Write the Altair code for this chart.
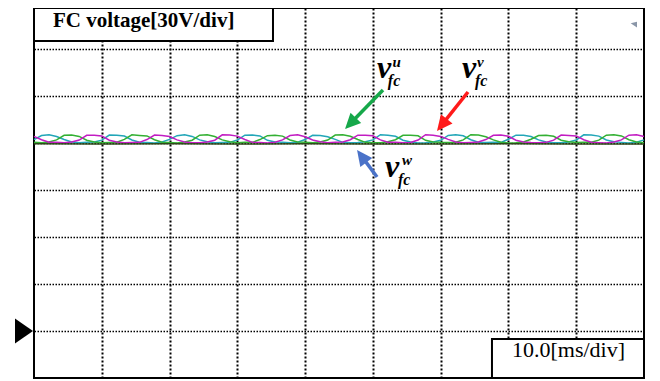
import altair as alt
import pandas as pd

# ---------------- data ----------------
# sample clock: 9 samples per 10 ms division, 0 .. 90 ms
t_ms = [round(i * 10 / 9, 3) for i in range(82)]

# flying-capacitor voltages [V] (30 V/div, ground = marker)
v_fc_w = [  # cyan trace
    122.1, 124.8, 125.2, 124.1, 122.2, 120.7, 120.1, 120.4, 120.6,
    121.8, 125.1, 124.9, 124.4, 121.9, 120.5, 120.3, 120.0, 120.7,
    122.3, 124.7, 125.3, 124.2, 122.0, 120.8, 120.2, 120.3, 120.4,
    121.9, 125.0, 125.1, 124.5, 121.7, 120.6, 120.4, 120.1, 120.5,
    122.2, 124.9, 124.8, 124.0, 122.3, 120.4, 120.2, 120.3, 120.8,
    122.0, 125.3, 125.0, 124.3, 121.8, 120.7, 120.0, 120.2, 120.6,
    121.7, 124.8, 125.2, 124.6, 122.1, 120.5, 120.3, 120.4, 120.3,
    122.4, 125.0, 124.9, 124.1, 122.0, 120.6, 120.1, 120.2, 120.7,
    121.9, 125.2, 125.1, 124.4, 121.9, 120.8, 120.4, 120.0, 120.5,
    122.0,
]
v_fc_u = [  # green trace
    120.4, 120.1, 120.6, 122.0, 124.9, 125.1, 124.2, 121.8, 120.7,
    120.2, 120.3, 120.5, 122.3, 125.2, 124.8, 124.5, 122.1, 120.5,
    120.3, 120.0, 120.7, 121.8, 125.0, 125.3, 124.1, 122.0, 120.8,
    120.1, 120.4, 120.4, 122.2, 124.7, 125.0, 124.4, 121.9, 120.6,
    120.5, 120.2, 120.6, 121.9, 125.1, 125.2, 124.3, 122.2, 120.4,
    120.2, 120.1, 120.8, 122.1, 124.9, 124.9, 124.6, 121.7, 120.7,
    120.4, 120.3, 120.5, 122.0, 125.3, 125.1, 124.0, 122.0, 120.5,
    120.0, 120.2, 120.6, 122.4, 124.8, 125.0, 124.3, 121.8, 120.8,
    120.3, 120.4, 120.5, 121.8, 125.0, 125.2, 124.5, 122.1, 120.6,
    120.2,
]
v_fc_v = [  # magenta trace
    124.2, 122.1, 120.5, 120.4, 120.1, 120.6, 121.9, 124.9, 125.0,
    124.5, 121.8, 120.7, 120.2, 120.3, 120.4, 122.2, 125.1, 124.8,
    124.1, 122.0, 120.6, 120.1, 120.2, 120.7, 121.8, 125.2, 125.1,
    124.4, 122.2, 120.4, 120.3, 120.0, 120.5, 122.0, 124.8, 125.2,
    124.0, 121.9, 120.8, 120.2, 120.4, 120.6, 122.1, 125.0, 124.9,
    124.6, 122.0, 120.5, 120.4, 120.1, 120.3, 121.9, 125.3, 125.0,
    124.2, 122.3, 120.6, 120.1, 120.3, 120.6, 122.2, 124.9, 125.1,
    124.3, 121.8, 120.7, 120.3, 120.2, 120.4, 121.8, 125.1, 124.8,
    124.5, 122.1, 120.5, 120.2, 120.0, 120.7, 122.0, 125.0, 125.2,
    124.1,
]
base_t = [0, 10, 20, 30, 40, 50, 60, 70, 80, 90]
base_v = [119.5, 119.4, 119.5, 119.3, 119.5, 119.4, 119.4, 119.5, 119.3, 119.4]

series_names = ["w", "u", "v"]
series_colors = ["#22a6b8", "#33b033", "#c21cc2"]

x_grid = [10, 20, 30, 40, 50, 60, 70, 80]
y_grid = [0, 30, 60, 90, 120, 150, 180]

title_text = "FC voltage[30V/div]"
scale_text = "10.0[ms/div]"

SERIF = "Times New Roman, Liberation Serif, serif"

# ---------------- tables ----------------
rows = []
for name, vals in zip(series_names, [v_fc_w, v_fc_u, v_fc_v]):
    for t, v in zip(t_ms, vals):
        rows.append({"t": t, "v": v, "s": name})
traces = pd.DataFrame(rows)
base = pd.DataFrame({"t": base_t, "v": base_v})

X = alt.Scale(domain=[0, 90], nice=False, zero=False)
Y = alt.Scale(domain=[-30, 206.17], nice=False, zero=False)

xax = alt.Axis(values=x_grid, grid=True, gridColor="black", gridDash=[2, 2], gridWidth=2,
               labels=False, ticks=False, domain=False, title=None)
yax = alt.Axis(values=y_grid, grid=True, gridColor="black", gridDash=[1.5, 1.5], gridWidth=1.6,
               labels=False, ticks=False, domain=False, title=None)

lines = alt.Chart(traces).mark_line(strokeWidth=1.5).encode(
    x=alt.X("t:Q", scale=X, axis=xax),
    y=alt.Y("v:Q", scale=Y, axis=yax),
    color=alt.Color("s:N", scale=alt.Scale(domain=series_names, range=series_colors), legend=None),
)

baseline = alt.Chart(base).mark_line(strokeWidth=1.5, color="#2f4a1a").encode(
    x=alt.X("t:Q", scale=X), y=alt.Y("v:Q", scale=Y)
)

# boxes
boxes = pd.DataFrame({
    "x": [0, 67.57], "x2": [35.26, 90], "y": [185.1, -30], "y2": [206.17, -5.1]
})
box_layer = alt.Chart(boxes).mark_rect(fill="white", stroke="black", strokeWidth=2).encode(
    x=alt.X("x:Q", scale=X), x2="x2", y=alt.Y("y:Q", scale=Y), y2="y2"
)

title_layer = alt.Chart(pd.DataFrame({"x": [2.8], "y": [194.0], "txt": [title_text]})).mark_text(
    font=SERIF, fontSize=21, fontWeight="bold", align="left", baseline="alphabetic",
    color="black"
).encode(x=alt.X("x:Q", scale=X), y=alt.Y("y:Q", scale=Y), text="txt:N")

scale_layer = alt.Chart(pd.DataFrame({"x": [78.86], "y": [-16.6], "txt": [scale_text]})).mark_text(
    font=SERIF, fontSize=22, align="center", baseline="alphabetic", color="black"
).encode(x=alt.X("x:Q", scale=X), y=alt.Y("y:Q", scale=Y), text="txt:N")

# arrows
arrows = pd.DataFrame({
    "x": [51.49, 64.03, 50.61], "y": [153.83, 152.55, 98.30],
    "x2": [46.71, 60.20, 48.36], "y2": [132.57, 131.68, 111.45],
    "tx": [45.89, 59.46, 47.66], "ty": [128.94, 127.66, 115.53],
    "ang": [224, 218.5, 323.5],
    "c": ["#16a84a", "#ff1a1a", "#4a72c8"],
})
shafts = alt.Chart(arrows).mark_rule(strokeWidth=3.5).encode(
    x=alt.X("x:Q", scale=X), y=alt.Y("y:Q", scale=Y), x2="x2", y2="y2",
    color=alt.Color("c:N", scale=None),
)
heads = alt.Chart(arrows).mark_point(
    shape="M0,0L-1,2.1L1,2.1Z", filled=True, size=220, opacity=1
).encode(
    x=alt.X("tx:Q", scale=X), y=alt.Y("ty:Q", scale=Y),
    angle=alt.Angle("ang:Q", scale=None), color=alt.Color("c:N", scale=None),
)

# labels v^s_fc
lab_v = pd.DataFrame({"x": [50.6, 63.15, 51.8], "y": [161.5, 161.5, 98.3], "txt": ["v", "v", "v"]})
lab_sup = pd.DataFrame({"x": [52.9, 65.36, 54.3], "y": [168.5, 168.5, 106.0], "txt": ["u", "v", "w"]})
lab_sub = pd.DataFrame({"x": [52.2, 65.07, 53.7], "y": [156.4, 156.4, 93.2], "txt": ["fc", "fc", "fc"]})

def lab(df, size):
    return alt.Chart(df).mark_text(
        font=SERIF, fontSize=size, fontWeight="bold", fontStyle="italic",
        align="left", baseline="alphabetic", color="black"
    ).encode(x=alt.X("x:Q", scale=X), y=alt.Y("y:Q", scale=Y), text="txt:N")

# ground marker and trigger marker
ground = alt.Chart(pd.DataFrame({"x": [-0.15], "y": [0]})).mark_point(
    shape="M0,0L-1.44,-1L-1.44,1Z", filled=True, size=625, color="black", opacity=1
).encode(x=alt.X("x:Q", scale=X), y=alt.Y("y:Q", scale=Y))
trig = alt.Chart(pd.DataFrame({"x": [88.5], "y": [195.3]})).mark_point(
    shape="M-1,-0.6L1,-1L1,0.8Z", filled=True, size=40, color="#8a96a8", opacity=1
).encode(x=alt.X("x:Q", scale=X), y=alt.Y("y:Q", scale=Y))

chart = alt.layer(
    lines, baseline, box_layer, title_layer, scale_layer, shafts, heads,
    lab(lab_v, 32), lab(lab_sup, 15), lab(lab_sub, 16), ground, trig
).properties(
    width=610, height=370, autosize=alt.AutoSizeParams(type="none"),
    padding={"left": 26, "top": 0, "right": 6, "bottom": 2},
    background="white",
).configure_view(stroke="black", strokeWidth=2)

chart.save("out.html", embed_options={"renderer": "svg", "actions": False})
